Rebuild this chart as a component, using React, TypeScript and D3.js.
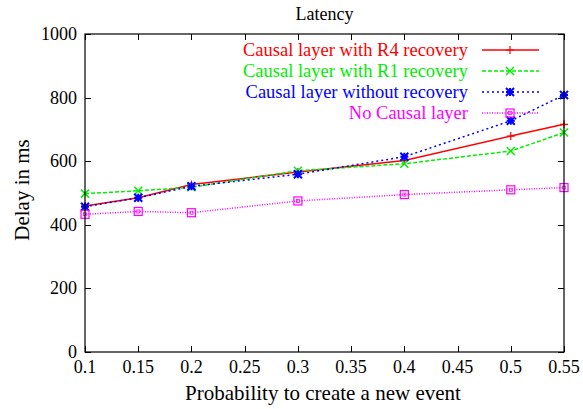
import React, { useEffect, useRef } from 'react';
import * as d3 from 'd3';

const probs = [0.1, 0.15, 0.2, 0.3, 0.4, 0.5, 0.55];
const r4Recovery = [459, 485, 527, 566, 602, 679, 716];
const r1Recovery = [498, 507, 518, 570, 592, 632, 690];
const noRecovery = [457, 485, 521, 559, 614, 727, 808];
const noCausal = [433, 442, 438, 475, 495, 510, 517];
const xTicks = [0.1, 0.15, 0.2, 0.25, 0.3, 0.35, 0.4, 0.45, 0.5, 0.55];
const yTicks = [0, 200, 400, 600, 800, 1000];

const series = [
  { name: 'Causal layer with R4 recovery', values: r4Recovery, color: '#ff0000', dash: null, mark: 'plus' },
  { name: 'Causal layer with R1 recovery', values: r1Recovery, color: '#00ee00', dash: '4,2', mark: 'cross' },
  { name: 'Causal layer without recovery', values: noRecovery, color: '#0000ff', dash: '2,3', mark: 'star' },
  { name: 'No Causal layer', values: noCausal, color: '#ff00ff', dash: '1,1.5', mark: 'box' },
];

const W = 583;
const H = 409;
const margin = { top: 34, right: 19, bottom: 57, left: 85 };
const FONT = '"Liberation Serif", "Times New Roman", serif';

function drawMark(g: any, kind: string, x: number, y: number, color: string) {
  const s = 4;
  if (kind === 'plus') {
    g.append('path').attr('d', `M${x - s},${y}H${x + s}M${x},${y - s}V${y + s}`)
      .attr('stroke', color).attr('stroke-width', 1.2);
  } else if (kind === 'cross') {
    g.append('path').attr('d', `M${x - s},${y - s}L${x + s},${y + s}M${x - s},${y + s}L${x + s},${y - s}`)
      .attr('stroke', color).attr('stroke-width', 1.5);
  } else if (kind === 'star') {
    g.append('path')
      .attr('d', `M${x - s},${y}H${x + s}M${x},${y - s}V${y + s}M${x - s},${y - s}L${x + s},${y + s}M${x - s},${y + s}L${x + s},${y - s}`)
      .attr('stroke', color).attr('stroke-width', 2);
  } else {
    g.append('rect').attr('x', x - s).attr('y', y - s).attr('width', 2 * s).attr('height', 2 * s)
      .attr('fill', 'none').attr('stroke', color).attr('stroke-width', 1.2);
    g.append('rect').attr('x', x - 1.5).attr('y', y - 1.5).attr('width', 3).attr('height', 3)
      .attr('fill', 'none').attr('stroke', color).attr('stroke-width', 0.8);
  }
}

export default function App() {
  const svgRef = useRef<SVGSVGElement>(null);

  useEffect(() => {
    const svg = d3.select(svgRef.current);
    svg.selectAll('*').remove();

    const x = d3.scaleLinear().domain([0.1, 0.55]).range([margin.left, W - margin.right]);
    const y = d3.scaleLinear().domain([0, 1000]).range([H - margin.bottom, margin.top]);
    const x0 = x.range()[0], x1 = x.range()[1];
    const y0 = y.range()[0], y1 = y.range()[1];

    svg.append('rect').attr('width', W).attr('height', H).attr('fill', '#fff');

    // ticks, mirrored on all sides, pointing in
    const tl = 6;
    const ticks = svg.append('g').attr('stroke', '#000').attr('stroke-width', 1);
    xTicks.forEach(t => {
      const px = Math.round(x(t)) + 0.5;
      ticks.append('line').attr('x1', px).attr('x2', px).attr('y1', y0).attr('y2', y0 - tl);
      ticks.append('line').attr('x1', px).attr('x2', px).attr('y1', y1).attr('y2', y1 + tl);
    });
    yTicks.forEach(t => {
      const py = Math.round(y(t)) + 0.5;
      ticks.append('line').attr('y1', py).attr('y2', py).attr('x1', x0).attr('x2', x0 + tl);
      ticks.append('line').attr('y1', py).attr('y2', py).attr('x1', x1).attr('x2', x1 - tl);
    });

    const labels = svg.append('g').attr('font-family', FONT).attr('font-size', 18).attr('fill', '#000');
    xTicks.forEach(t => {
      labels.append('text').attr('x', x(t)).attr('y', 373).attr('text-anchor', 'middle')
        .text(d3.format('')(t));
    });
    yTicks.forEach(t => {
      labels.append('text').attr('x', 77).attr('y', y(t) + 6).attr('text-anchor', 'end').text(t);
    });

    labels.append('text').attr('x', 323).attr('y', 400).attr('text-anchor', 'middle')
      .attr('font-size', 21).text('Probability to create a new event');
    labels.append('text').attr('transform', `translate(29,190) rotate(-90)`)
      .attr('text-anchor', 'middle').attr('font-size', 21).text('Delay in ms');
    labels.append('text').attr('x', (x0 + x1) / 2).attr('y', 20).attr('text-anchor', 'middle')
      .attr('font-size', 18).text('Latency');

    const plot = svg.append('g');
    series.forEach(s => {
      const line = d3.line<number>().x((d, i) => x(probs[i])).y(d => y(d));
      plot.append('path').datum(s.values).attr('d', line)
        .attr('fill', 'none').attr('stroke', s.color).attr('stroke-width', 1.5)
        .attr('stroke-dasharray', s.dash);
      s.values.forEach((v, i) => drawMark(plot, s.mark, x(probs[i]), y(v), s.color));
    });

    // legend
    const leg = svg.append('g');
    series.forEach((s, i) => {
      const ly = 50 + i * 21;
      leg.append('text').attr('x', 468).attr('y', ly + 6).attr('text-anchor', 'end')
        .attr('font-family', FONT).attr('font-size', 18.5).attr('fill', s.color).text(s.name);
      leg.append('line').attr('x1', 482).attr('x2', 539).attr('y1', ly).attr('y2', ly)
        .attr('stroke', s.color).attr('stroke-width', 1.5).attr('stroke-dasharray', s.dash);
      drawMark(leg, s.mark, 510, ly, s.color);
    });

    // frame
    svg.append('rect').attr('x', x0).attr('y', y1).attr('width', x1 - x0).attr('height', y0 - y1)
      .attr('fill', 'none').attr('stroke', '#000').attr('stroke-width', 1.2);
  }, []);

  return (
    <svg ref={svgRef} width={W} height={H} style={{ position: 'absolute', left: 0, top: 0 }} />
  );
}
